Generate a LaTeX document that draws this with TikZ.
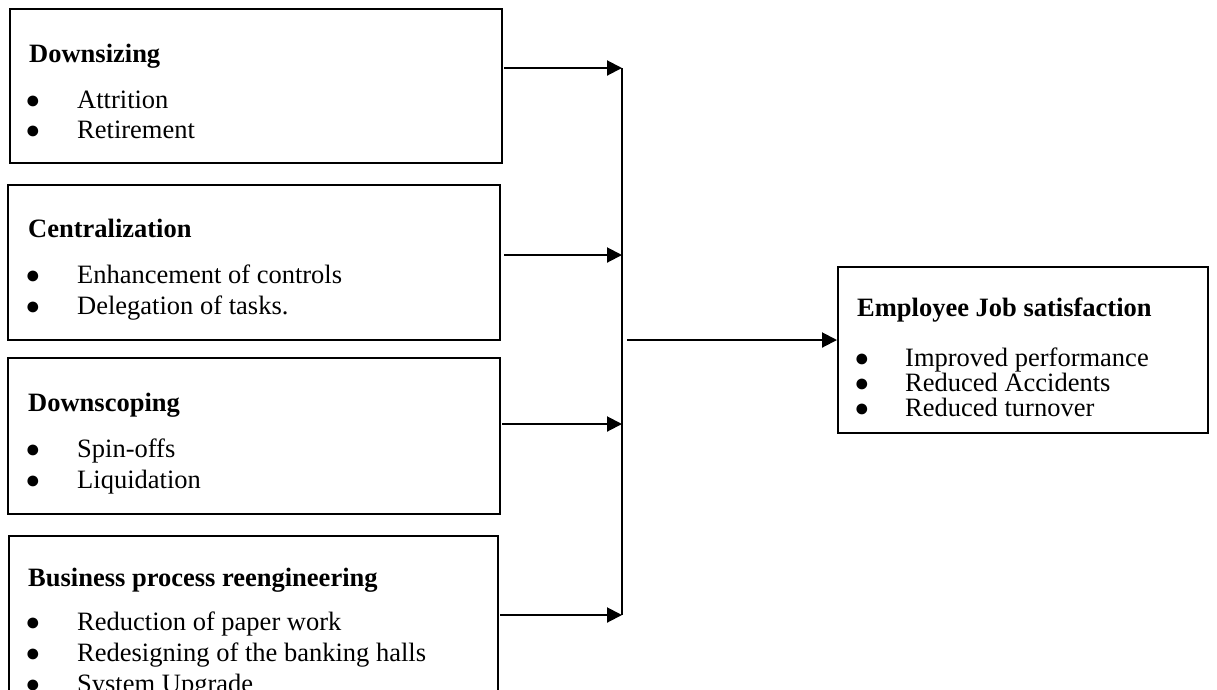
\documentclass[tikz,border=0pt]{standalone}
\usepackage{fontspec}
\setmainfont{Liberation Serif}
\usetikzlibrary{arrows.meta}
\begin{document}
\begin{tikzpicture}[x=1pt,y=-1pt,
  box/.style={draw, line width=1.5pt, rectangle, inner sep=0pt, anchor=north west},
  head/.style={anchor=base west, inner sep=0pt, font=\fontsize{26.5}{30}\selectfont\bfseries},
  item/.style={anchor=base west, inner sep=0pt, font=\fontsize{26.5}{30}\selectfont},
  bul/.style={anchor=base, inner sep=0pt, font=\fontsize{25}{26}\selectfont},
  conn/.style={line width=2pt, -{Triangle[length=15pt,width=15pt]}},
  bus/.style={line width=2pt}]
\useasboundingbox (0,0) rectangle (1217,689);
\clip (0,0) rectangle (1217,689);
\fill[white] (0,0) rectangle (1217,689);
% Box 1
\node[box, minimum width=492pt, minimum height=154pt] (b1) at (9,8) {};
\node[head] (h1) at (29,62) {Downsizing};
\node[bul] (b1a) at (33,108) {●};
\node[item] (i1a) at (77,108) {Attrition};
\node[bul] (b1b) at (33,138) {●};
\node[item] (i1b) at (77,138) {Retirement};
% Box 2
\node[box, minimum width=492pt, minimum height=155pt] (b2) at (7,184) {};
\node[head] (h2) at (28,237) {Centralization};
\node[bul] (b2a) at (33,283) {●};
\node[item] (i2a) at (77,283) {Enhancement of controls};
\node[bul] (b2b) at (33,314) {●};
\node[item] (i2b) at (77,314) {Delegation of tasks.};
% Box 3
\node[box, minimum width=492pt, minimum height=156pt] (b3) at (7,357) {};
\node[head] (h3) at (28,411) {Downscoping};
\node[bul] (b3a) at (33,457) {●};
\node[item] (i3a) at (77,457) {Spin-offs};
\node[bul] (b3b) at (33,488) {●};
\node[item] (i3b) at (77,488) {Liquidation};
% Box 4
\node[box, minimum width=489pt, minimum height=200pt] (b4) at (8,535) {};
\node[head] (h4) at (28,586) {Business process reengineering};
\node[bul] (b4a) at (33,630) {●};
\node[item] (i4a) at (77,630) {Reduction of paper work};
\node[bul] (b4b) at (33,661) {●};
\node[item] (i4b) at (77,661) {Redesigning of the banking halls};
\node[bul] (b4c) at (33,692) {●};
\node[item] (i4c) at (77,692) {System Upgrade};
% Outcome box
\node[box, minimum width=370pt, minimum height=166pt] (out) at (837,266) {};
\node[head] (ho) at (857,316) {Employee Job satisfaction};
\node[bul] (boa) at (862,366) {●};
\node[item] (ioa) at (905,366) {Improved performance};
\node[bul] (bob) at (862,391) {●};
\node[item] (iob) at (905,391) {Reduced Accidents};
\node[bul] (boc) at (862,416) {●};
\node[item] (ioc) at (905,416) {Reduced turnover};
% connectors
\coordinate (s1) at (504,68);  \coordinate (t1) at (622,68);
\coordinate (s2) at (504,255); \coordinate (t2) at (622,255);
\coordinate (s3) at (502,424); \coordinate (t3) at (622,424);
\coordinate (s4) at (500,615); \coordinate (t4) at (622,615);
\draw[bus] (t1) -- (t4);
\draw[conn] (s1) -- (t1);
\draw[conn] (s2) -- (t2);
\draw[conn] (s3) -- (t3);
\draw[conn] (s4) -- (t4);
\coordinate (m) at (627,340);
\draw[conn] (m) -- (m -| out.west);
\end{tikzpicture}
\end{document}
